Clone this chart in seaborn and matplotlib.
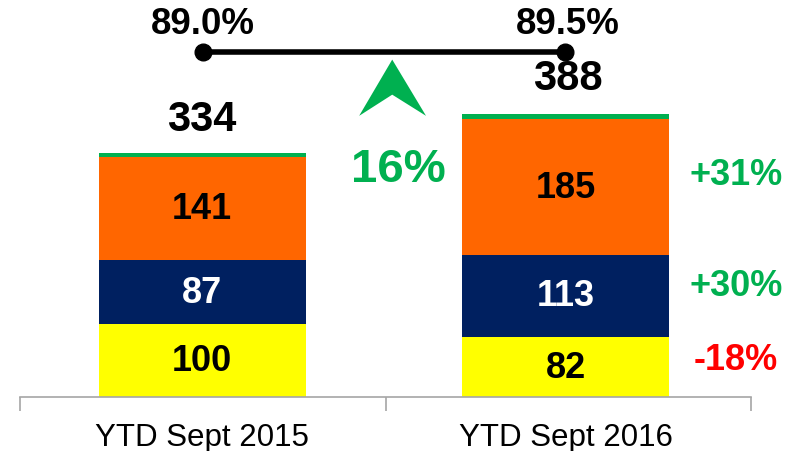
import matplotlib

matplotlib.use("Agg")
import matplotlib.pyplot as plt  # noqa: E402
import seaborn as sns  # noqa: E402
import pandas as pd  # noqa: E402

# data
periods = ["YTD Sept 2015", "YTD Sept 2016"]
yellow_vals = [100, 82]
navy_vals = [87, 113]
orange_vals = [141, 185]
totals = [334, 388]
ratio_labels = ["89.0%", "89.5%"]
growth_total = "16%"
growth_labels = ["+31%", "+30%", "-18%"]  # orange, navy, yellow

COLORS = {"yellow": "#FFFF00", "navy": "#002060", "orange": "#FF6600", "green": "#00B050"}

sns.set_style("white")
plt.rcParams["font.family"] = ["Liberation Sans", "DejaVu Sans"]
plt.rcParams["text.color"] = "black"
plt.rcParams["xtick.color"] = "black"

fig = plt.figure(figsize=(8, 4.52), dpi=100)
ax = fig.add_axes([0.0256, 0.1195, 0.913, 0.8805])

df = pd.DataFrame({
    "period": periods,
    "yellow": yellow_vals,
    "navy": navy_vals,
    "orange": orange_vals,
    "total": totals,
})
df["c1"] = df["yellow"]
df["c2"] = df["yellow"] + df["navy"]
df["c3"] = df["c2"] + df["orange"]

# stacked look: draw cumulative heights, tallest first
for col, color in [("total", COLORS["green"]), ("c3", COLORS["orange"]),
                   ("c2", COLORS["navy"]), ("c1", COLORS["yellow"])]:
    sns.barplot(data=df, x="period", y=col, color=color, width=0.57,
                edgecolor="none", linewidth=0, saturation=1, ax=ax)

# segment labels
for i in range(len(periods)):
    segs = [(0, yellow_vals[i], "black"),
            (yellow_vals[i], navy_vals[i], "white"),
            (yellow_vals[i] + navy_vals[i], orange_vals[i], "black")]
    for bottom, h, tc in segs:
        ax.text(i, bottom + h / 2, str(h), ha="center", va="center",
                fontsize=26, fontweight="bold", color=tc)

# totals
ax.text(0, 381, str(totals[0]), ha="center", va="center", fontsize=30, fontweight="bold")
ax.text(1.007, 437, str(totals[1]), ha="center", va="center", fontsize=30, fontweight="bold")

# ratio line on top
ax.plot([0.003, 0.999], [473, 473], color="black", lw=4, marker="o", ms=12, solid_capstyle="butt")
ax.text(0.003, 511, ratio_labels[0], ha="center", va="center", fontsize=26.5, fontweight="bold")
ax.text(1.007, 511, ratio_labels[1], ha="center", va="center", fontsize=26.5, fontweight="bold")

# green up arrow
arrow = plt.Polygon([[0.432, 385], [0.523, 462], [0.616, 385], [0.523, 414]],
                    closed=True, color=COLORS["green"], lw=0)
ax.add_patch(arrow)
ax.text(0.539, 312, growth_total, ha="center", va="center", fontsize=34,
        fontweight="bold", color=COLORS["green"])

# growth labels on the right
ax.text(1.469, 305, growth_labels[0], ha="center", va="center", fontsize=26,
        fontweight="bold", color=COLORS["green"])
ax.text(1.469, 152, growth_labels[1], ha="center", va="center", fontsize=26,
        fontweight="bold", color=COLORS["green"])
ax.text(1.469, 52, growth_labels[2], ha="center", va="center", fontsize=26,
        fontweight="bold", color="#FF0000")

ax.set_xlim(-0.5, 1.51)
ax.set_ylim(0, 545)
ax.set_xlabel("")
ax.set_ylabel("")
ax.set_yticks([])
for s in ["top", "left", "right"]:
    ax.spines[s].set_visible(False)
ax.spines["bottom"].set_color("#A6A6A6")
ax.spines["bottom"].set_linewidth(1.2)
ax.set_xticks([0, 1])
ax.set_xticklabels(periods, fontsize=22.5)
ax.set_xticks([-0.5, 0.505, 1.51], minor=True)
ax.tick_params(axis="x", which="major", length=0, pad=18)
ax.tick_params(axis="x", which="minor", bottom=True, length=10, width=1.2,
               color="#A6A6A6", direction="out")

fig.savefig("out.png", dpi=100)
